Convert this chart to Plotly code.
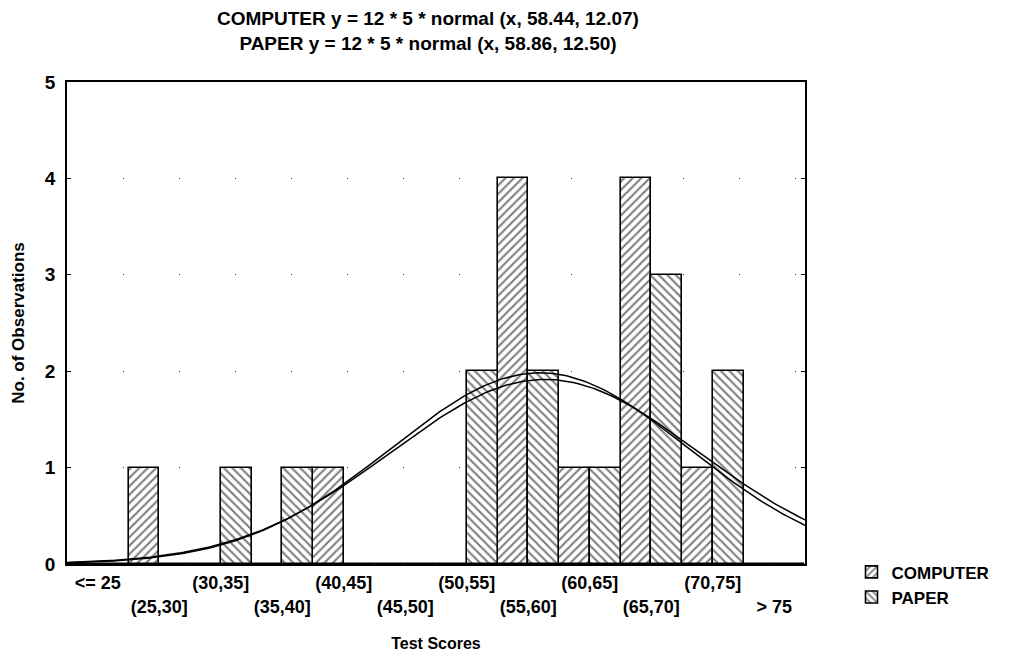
import numpy as np
import plotly.graph_objects as go

# ---- data ----
categories = ["<= 25", "(25,30]", "(30,35]", "(35,40]", "(40,45]", "(45,50]",
              "(50,55]", "(55,60]", "(60,65]", "(65,70]", "(70,75]", "> 75"]
computer_counts = [0, 1, 0, 0, 1, 0, 0, 4, 1, 4, 1, 0]
paper_counts = [0, 0, 1, 1, 0, 0, 2, 2, 1, 3, 2, 0]

# fitted normal curves stated in the chart title: n * binwidth * normal(x, mean, sd)
computer_fit = {"n": 12, "bin": 5, "mean": 58.44, "sd": 12.07}
paper_fit = {"n": 12, "bin": 5, "mean": 58.86, "sd": 12.50}
score_range = [20, 80]

y_ticks = [0, 1, 2, 3, 4, 5]

FONT = "Liberation Sans, Arial, sans-serif"


def fit_curve(p):
    xs = np.linspace(score_range[0], score_range[1], 241)
    ys = p["n"] * p["bin"] * np.exp(-0.5 * ((xs - p["mean"]) / p["sd"]) ** 2) / (p["sd"] * np.sqrt(2 * np.pi))
    return xs, ys


def b(s):
    return "<b>" + s + "</b>"


tick_text = [b(c) if i % 2 == 0 else "<br>" + b(c) for i, c in enumerate(categories)]

fig = go.Figure()
fig.add_trace(go.Bar(
    x=categories, y=computer_counts, name=b("COMPUTER"),
    marker=dict(color="white", line=dict(color="black", width=1.6),
                pattern=dict(shape="/", fgcolor="black", bgcolor="white", size=6, solidity=0.36)),
))
fig.add_trace(go.Bar(
    x=categories, y=paper_counts, name=b("PAPER"),
    marker=dict(color="white", line=dict(color="black", width=1.6),
                pattern=dict(shape="\\", fgcolor="black", bgcolor="white", size=6, solidity=0.36)),
))
for p in (computer_fit, paper_fit):
    xs, ys = fit_curve(p)
    fig.add_trace(go.Scatter(x=xs, y=ys, mode="lines", xaxis="x2", showlegend=False,
                             line=dict(color="black", width=1.5), hoverinfo="skip"))

fig.update_layout(
    width=1014, height=659,
    paper_bgcolor="white", plot_bgcolor="white",
    margin=dict(l=67, r=209, t=82, b=95, autoexpand=False),
    font=dict(family=FONT, color="black", size=18),
    barmode="group", bargap=0, bargroupgap=0,
    title=dict(text=b("COMPUTER y = 12 * 5 * normal (x, 58.44, 12.07)") + "<br>" +
               b("PAPER y = 12 * 5 * normal (x, 58.86, 12.50)"),
               x=428 / 1014, xanchor="center", y=1 - 25 / 659, yanchor="middle",
               font=dict(family=FONT, size=19, color="black")),
    xaxis=dict(
        type="category", range=[-0.5, len(categories) - 0.5],
        tickmode="array", tickvals=categories, ticktext=tick_text,
        ticks="", showgrid=False, zeroline=False, automargin=False,
        showline=True, linecolor="black", linewidth=1.6, mirror=True,
        tickfont=dict(size=18),
        ticklabelstandoff=2,
        title=dict(text=b("Test Scores"), font=dict(size=16), standoff=22),
    ),
    xaxis2=dict(overlaying="x", range=score_range, visible=False, side="bottom"),
    yaxis=dict(
        range=[0, 5], tickmode="array", tickvals=y_ticks,
        ticktext=[b(str(v)) for v in y_ticks], automargin=False,
        ticks="inside", ticklen=4, tickcolor="black", tickwidth=1.3,
        showline=True, linecolor="black", linewidth=1.6, mirror="ticks",
        showgrid=True, gridcolor="#333", griddash="1px,55px", gridwidth=1,
        zeroline=False, tickfont=dict(size=19), ticklabelstandoff=6,
        title=dict(text=b("No. of Observations"), font=dict(size=17), standoff=16),
    ),
    legend=dict(x=1.063, xanchor="left", y=0.02, yanchor="top",
                font=dict(size=17), bgcolor="rgba(0,0,0,0)", tracegroupgap=0,
                itemwidth=30),
)

fig.write_html("out.html")
